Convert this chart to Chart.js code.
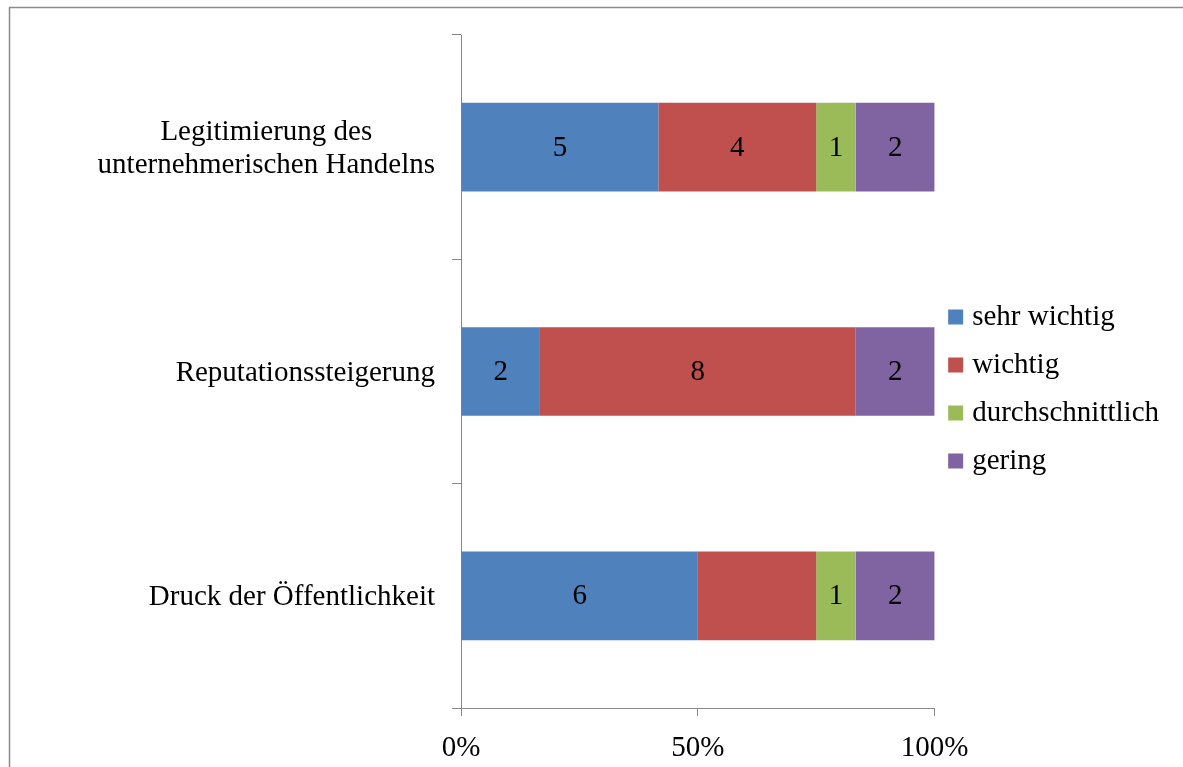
<!DOCTYPE html>
<html>
<head>
<meta charset="utf-8">
<script src="https://cdn.jsdelivr.net/npm/chart.js@4/dist/chart.umd.min.js"></script>
<style>
  html, body { margin: 0; padding: 0; background: #fff; overflow: hidden; }
  canvas { display: block; }
</style>
</head>
<body>
<canvas id="chart" width="1183" height="767"></canvas>
<script>
// categories (top to bottom) and answers per importance level
const categories = [['Legitimierung des', 'unternehmerischen Handelns'], 'Reputationssteigerung', 'Druck der Öffentlichkeit'];
const seriesNames = ['sehr wichtig', 'wichtig', 'durchschnittlich', 'gering'];
const sehrWichtig = [5, 2, 6];
const wichtig = [4, 8, 3];
const durchschnittlich = [1, 0, 1];
const gering = [2, 2, 2];
const xTicks = [0, 50, 100];
// [series, category] pairs whose count is not written on the bar
const unlabelled = [[1, 2]];

const series = [sehrWichtig, wichtig, durchschnittlich, gering];
const colors = ['#4F81BD', '#C0504D', '#9BBB59', '#8064A2'];
const FONT = "'Liberation Serif', 'Times New Roman', serif";
const AXIS = '#888888';

const totals = categories.map((c, i) => series.reduce((s, arr) => s + arr[i], 0));

Chart.defaults.font.family = FONT;
Chart.defaults.font.size = 29;
Chart.defaults.color = '#000';

// outer frame of the chart
const frame = {
  id: 'frame',
  beforeDraw(chart) {
    const ctx = chart.ctx;
    ctx.save();
    ctx.strokeStyle = '#8a8a8a';
    ctx.lineWidth = 1.5;
    ctx.strokeRect(9.5, 7.5, 1200, 800);
    ctx.restore();
  }
};

// category names left of the axis: block right aligned, lines centred in the block
const categoryLabels = {
  id: 'categoryLabels',
  afterDraw(chart) {
    const ctx = chart.ctx;
    const y = chart.scales.y;
    ctx.save();
    ctx.font = '29px ' + FONT;
    ctx.fillStyle = '#000';
    ctx.textAlign = 'center';
    ctx.textBaseline = 'middle';
    categories.forEach((cat, i) => {
      const lines = Array.isArray(cat) ? cat : [cat];
      const w = Math.max(...lines.map(l => ctx.measureText(l).width));
      const cx = y.right - 26 - w / 2;
      const cy = y.getPixelForValue(i) + 2;
      lines.forEach((l, k) => ctx.fillText(l, cx, cy + (k - (lines.length - 1) / 2) * 33));
    });
    ctx.restore();
  }
};

// counts written in the middle of each segment
const valueLabels = {
  id: 'valueLabels',
  afterDatasetsDraw(chart) {
    const ctx = chart.ctx;
    ctx.save();
    ctx.font = '29px ' + FONT;
    ctx.fillStyle = '#000';
    ctx.textAlign = 'center';
    ctx.textBaseline = 'middle';
    series.forEach((arr, d) => {
      chart.getDatasetMeta(d).data.forEach((bar, i) => {
        if (!arr[i]) return;
        if (unlabelled.some(([s, c]) => s === d && c === i)) return;
        const p = bar.getCenterPoint();
        ctx.fillText(String(arr[i]), p.x, p.y + 1);
      });
    });
    ctx.restore();
  }
};

new Chart(document.getElementById('chart'), {
  type: 'bar',
  data: {
    labels: categories,
    datasets: series.map((arr, d) => ({
      label: seriesNames[d],
      data: arr.map((v, i) => v / totals[i] * 100),
      backgroundColor: colors[d],
      borderWidth: 0,
      barPercentage: 0.395,
      categoryPercentage: 1
    }))
  },
  options: {
    indexAxis: 'y',
    responsive: false,
    animation: false,
    layout: { padding: { top: 11, bottom: 0, left: 0, right: 14 } },
    scales: {
      x: {
        stacked: true,
        min: 0,
        max: 100,
        afterBuildTicks: s => { s.ticks = xTicks.map(v => ({ value: v })); },
        afterFit: s => { s.height = 59; },
        ticks: { callback: v => v + '%', padding: 15, maxRotation: 0 },
        grid: { drawOnChartArea: false, tickLength: 8, color: AXIS },
        border: { color: AXIS, width: 1 }
      },
      // empty strip above the plot, keeps the legend centred on the full height
      xTop: {
        type: 'linear',
        axis: 'x',
        position: 'top',
        grid: { display: false },
        ticks: { display: false },
        border: { display: false },
        afterFit: s => { s.height = 24; }
      },
      y: {
        stacked: true,
        afterFit: s => { s.width = 461; },
        ticks: { display: false },
        grid: { drawOnChartArea: false, tickLength: 9, color: AXIS, offset: true },
        border: { color: AXIS, width: 1 }
      }
    },
    plugins: {
      tooltip: { enabled: false },
      legend: {
        position: 'right',
        labels: {
          usePointStyle: true,
          pointStyle: 'rect',
          boxWidth: 4,
          boxHeight: 15,
          padding: 19,
          font: { size: 29 }
        }
      }
    }
  },
  plugins: [frame, categoryLabels, valueLabels]
});
</script>
</body>
</html>
